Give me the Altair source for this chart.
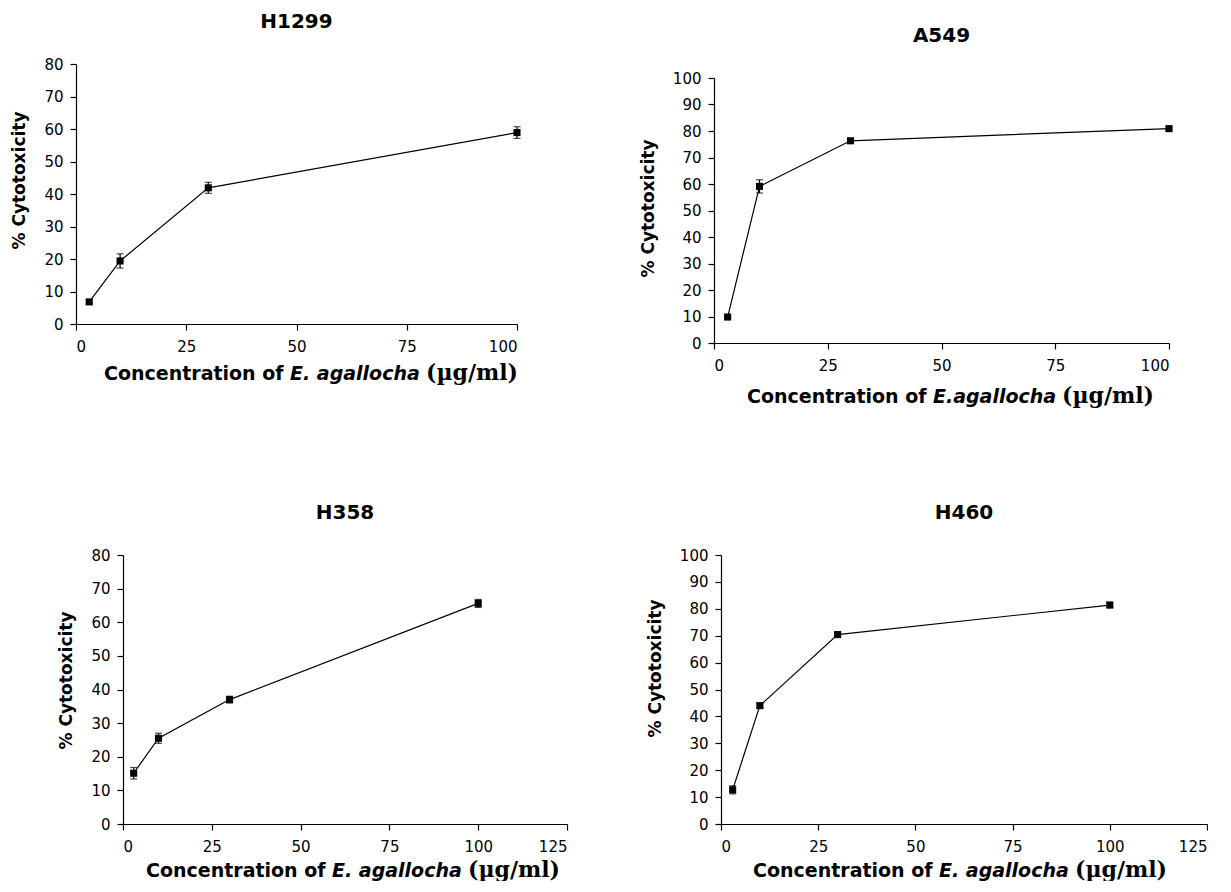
import altair as alt
import pandas as pd

# ---- data ----
conc = [3, 10, 30, 100]
h1299 = [6.8, 19.4, 41.9, 58.9]
h1299_err = [0.6, 2.2, 1.7, 1.8]
a549 = [9.8, 59.1, 76.3, 80.9]
a549_err = [0.5, 2.5, 0.9, 0.7]
h358 = [15.1, 25.5, 37.0, 65.6]
h358_err = [1.7, 1.5, 1.0, 1.2]
h460 = [12.7, 44.0, 70.4, 81.4]
h460_err = [1.5, 0.8, 1.0, 1.0]

SANS = "DejaVu Sans"
SERIF = "DejaVu Serif"
XT_SIZE = 19
XT_SERIF_SIZE = 22


def panel(vals, errs, xmax, ymax, w, h, title, species, xt_start,
          ytitle_y, xt_dy):
    df = pd.DataFrame({"x": conc, "y": vals,
                       "lo": [v - e for v, e in zip(vals, errs)],
                       "hi": [v + e for v, e in zip(vals, errs)]})
    xs = alt.Scale(domain=[0, xmax], nice=False, zero=True)
    ys = alt.Scale(domain=[0, ymax], nice=False)
    xax = alt.Axis(values=list(range(0, xmax + 1, 25)), title=None,
                   labelFont=SANS, labelFontSize=15, labelColor="black",
                   tickSize=6, labelPadding=9, grid=False, labelOverlap=False)
    yax = alt.Axis(values=list(range(0, ymax + 1, 10)), title="% Cytotoxicity",
                   labelFont=SANS, labelFontSize=15, labelColor="black",
                   tickSize=6, labelPadding=7, grid=False, labelOverlap=False,
                   titleFont=SANS, titleFontSize=17, titleFontWeight="bold",
                   titleColor="black", titlePadding=15, titleY=ytitle_y)
    X = alt.X("x:Q", scale=xs, axis=xax)
    Y = alt.Y("y:Q", scale=ys, axis=yax)
    base = alt.Chart(df)
    line = base.mark_line(color="black", strokeWidth=1.2).encode(x=X, y=Y)
    rule = base.mark_rule(color="black", strokeWidth=1.2).encode(
        x=X, y=alt.Y("lo:Q", scale=ys, axis=yax), y2="hi:Q")
    cap_lo = base.mark_tick(color="black", orient="horizontal", size=7,
                            thickness=1.2).encode(
        x=X, y=alt.Y("lo:Q", scale=ys, axis=yax))
    cap_hi = base.mark_tick(color="black", orient="horizontal", size=7,
                            thickness=1.2).encode(
        x=X, y=alt.Y("hi:Q", scale=ys, axis=yax))
    pts = base.mark_square(color="black", opacity=1, size=50).encode(x=X, y=Y)

    one = pd.DataFrame({"k": [0]})
    w1 = 186
    w2 = 130 if species.startswith("E. ") else 123
    t1 = alt.Chart(one).mark_text(
        text="Concentration of", font=SANS, fontSize=XT_SIZE, fontWeight="bold",
        align="left", baseline="alphabetic", color="black").encode(
        x=alt.value(xt_start), y=alt.value(h + xt_dy))
    t2 = alt.Chart(one).mark_text(
        text=species, font=SANS, fontSize=XT_SIZE, fontWeight="bold",
        fontStyle="italic", align="left", baseline="alphabetic",
        color="black").encode(
        x=alt.value(xt_start + w1), y=alt.value(h + xt_dy))
    t3 = alt.Chart(one).mark_text(
        text="(µg/ml)", font=SERIF, fontSize=XT_SERIF_SIZE, fontWeight="bold",
        align="left", baseline="alphabetic", color="black").encode(
        x=alt.value(xt_start + w1 + w2 + 6), y=alt.value(h + xt_dy))

    return alt.layer(line, rule, cap_lo, cap_hi, pts, t1, t2, t3).properties(
        width=w, height=h,
        title=alt.TitleParams(text=title, font=SANS, fontSize=20,
                              fontWeight="bold", color="black", frame="group",
                              anchor="middle", offset=25))


def spacer(w, h):
    return alt.Chart(pd.DataFrame({"k": [0]})).mark_point(
        size=0, strokeWidth=0, opacity=0).encode(
        x=alt.value(0), y=alt.value(0)).properties(width=w, height=h)


def cell(p, dy, dx):
    return alt.vconcat(spacer(1, dy),
                       alt.hconcat(spacer(dx, 1), p, spacing=0),
                       spacing=0)


p1 = panel(h1299, h1299_err, 100, 80, 441, 260, "H1299",
           "E. agallocha", 28, 116, 56)
p2 = panel(a549, a549_err, 100, 100, 455, 265, "A549",
           "E.agallocha", 33, 130, 60)
p3 = panel(h358, h358_err, 125, 80, 444, 269, "H358",
           "E. agallocha", 23, 125, 53)
p4 = panel(h460, h460_err, 125, 100, 486, 269, "H460",
           "E. agallocha", 32, 113, 53)

chart = alt.concat(cell(p1, 4, 2), cell(p2, 18, 61),
                   cell(p3, 86, 49), cell(p4, 86, 68),
                   columns=2, spacing={"row": 10, "column": 10}).properties(
    padding=0
).configure(background="white").configure_view(strokeWidth=0).configure_axis(
    domainColor="black", tickColor="black", domainWidth=1.2, tickWidth=1.2
)

chart.save("out.html", embed_options={"renderer": "svg", "actions": False})
